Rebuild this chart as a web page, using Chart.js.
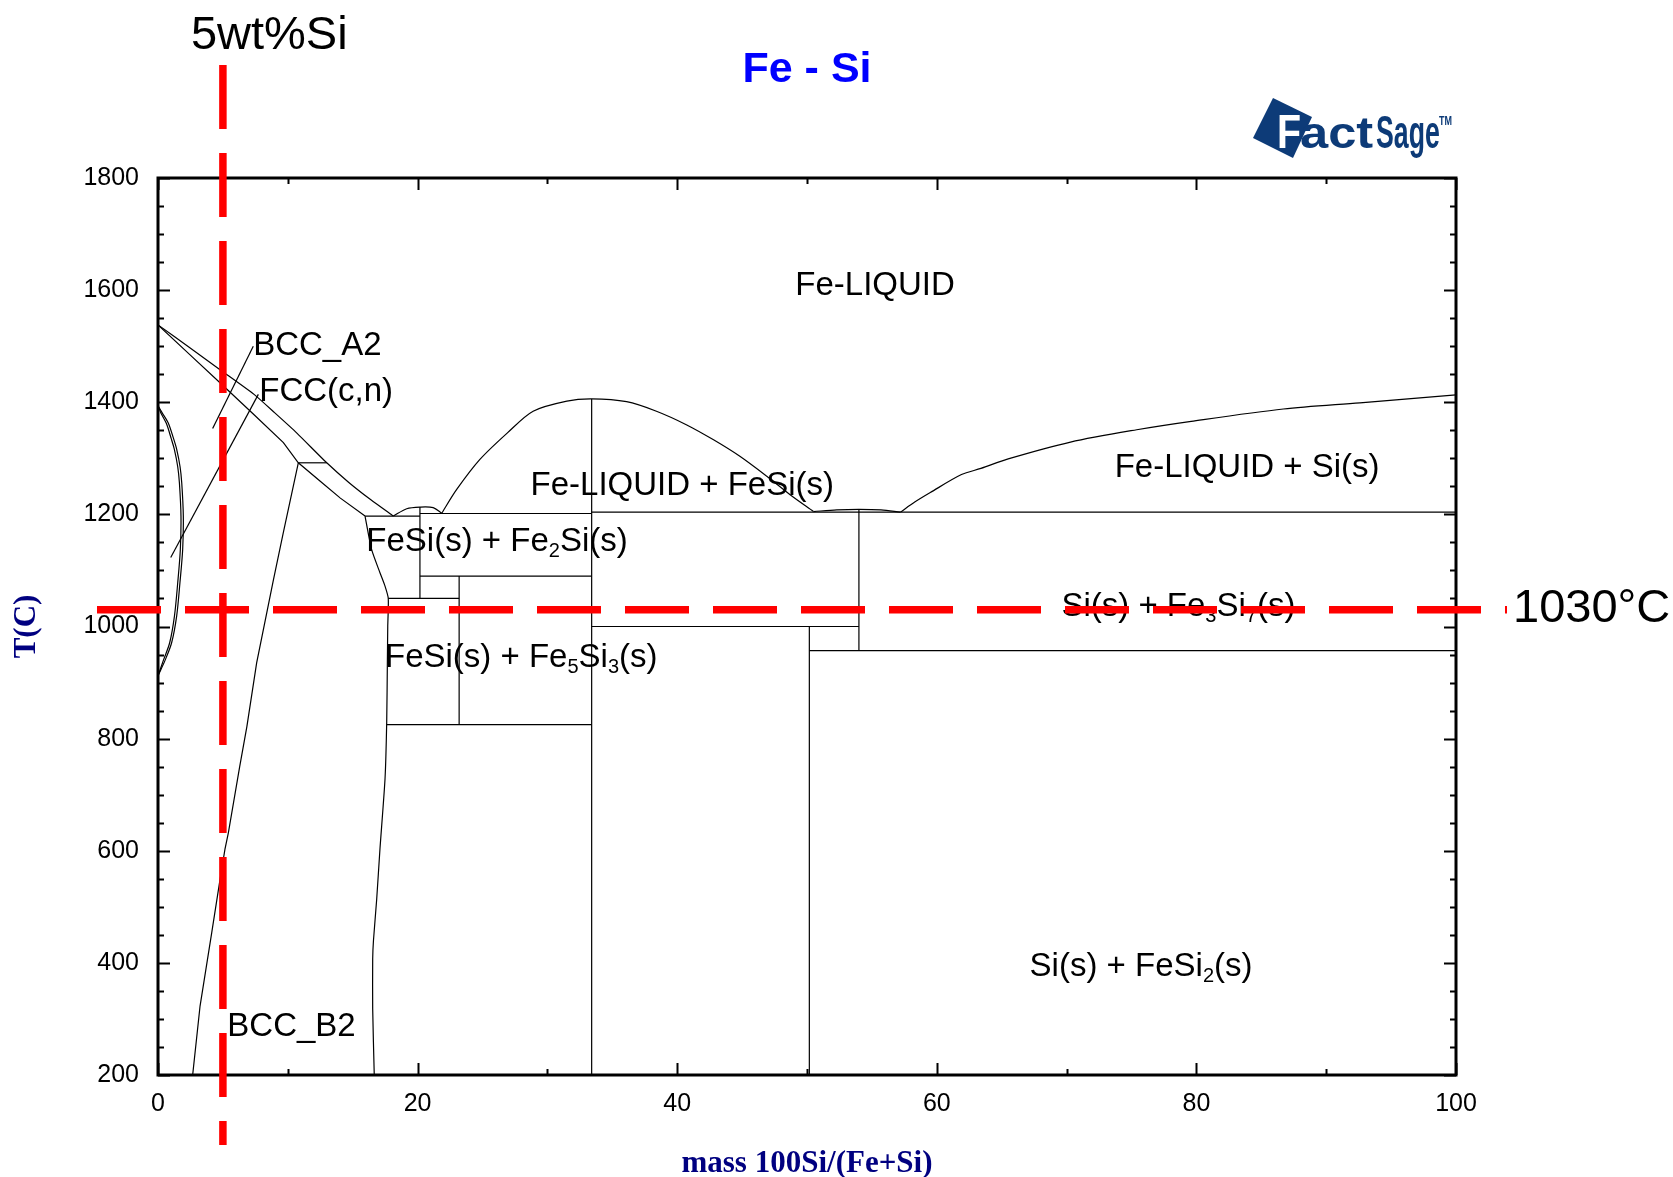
<!DOCTYPE html>
<html>
<head>
<meta charset="utf-8">
<title>Fe - Si</title>
<script src="https://cdn.jsdelivr.net/npm/chart.js@4.4.1/dist/chart.umd.min.js"></script>
<style>
  html, body { margin: 0; padding: 0; background: #ffffff; }
  #wrap { width: 1673px; height: 1177px; position: relative; }
  canvas { display: block; }
</style>
</head>
<body>
<div id="wrap"><canvas id="chart" width="1673" height="1177"></canvas></div>
<script>
// ---- Fe–Si phase boundaries, each point is [mass% Si, T in °C] ----
const liquidusFe      = [[0,1538],[2.4,1498],[4.78,1458],[7.4,1414],[9.0,1381],[10.7,1345],[13.0,1292],[14.7,1257],[16.4,1226],[18.13,1197]];
const solidusBcc      = [[0,1538],[2.45,1485],[4.9,1432],[7.3,1380],[9.66,1328],[10.81,1292],[12.5,1259],[14.05,1229],[15.95,1197]];
const bccTie1292      = [[10.81,1292],[13.0,1292]];
const gammaLoopOuter  = [[0,1394],[0.3,1382],[0.79,1363],[1.2,1335],[1.44,1316],[1.7,1285],[1.83,1256],[1.95,1197],[1.9,1137],[1.69,1078],[1.44,1019],[1.05,971],[0.55,940],[0,912]];
const gammaLoopInner  = [[0,1394],[0.22,1381],[0.65,1362],[1.02,1335],[1.26,1316],[1.52,1285],[1.65,1256],[1.77,1197],[1.72,1137],[1.52,1078],[1.27,1019],[0.9,971],[0.42,940],[0,912]];
const bccA2B2         = [[10.81,1292],[9.65,1167],[8.9,1084],[7.6,935],[6.85,822],[6.3,751],[5.42,632],[5.16,603],[4.78,549],[4.14,454],[3.24,323],[2.67,200]];
const bccA2Leader     = [[4.21,1353],[7.34,1500]];
const fccLeader       = [[0.98,1123],[7.73,1414]];
const b2FeSiBoundary  = [[15.95,1197],[16.46,1137],[17.1,1096],[17.49,1072],[17.74,1050],[17.7,1000],[17.67,935],[17.62,829],[17.49,728],[17.1,603],[16.85,514],[16.6,440],[16.54,407],[16.54,318],[16.66,200]];
const eutecticFe2Si   = [[15.95,1197],[20.18,1197]];
const fe2SiDome       = [[18.13,1197],[19.16,1210],[20.18,1213],[21.2,1212],[21.86,1202]];
const fe2SiLine       = [[20.18,1213],[20.18,1050]];
const fe2SiTop        = [[20.18,1201.6],[33.41,1201.6]];
const fe2SiEutectoid  = [[20.18,1090],[33.41,1090]];
const fe5Si3Line      = [[23.2,1090],[23.2,825]];
const tie1050         = [[17.74,1050],[23.2,1050]];
const tie825          = [[17.62,825],[33.41,825]];
const feSiLiquidus    = [[21.86,1202],[23.0,1244],[24.8,1298],[26.9,1345],[28.9,1384],[31.5,1402],[33.41,1406],[36.1,1401],[38.4,1384],[40.7,1360],[42.8,1333],[44.8,1304],[46.9,1268],[48.7,1235],[50.5,1205]];
const feSiLine        = [[33.41,1406],[33.41,200]];
const eutecticSi      = [[33.41,1204],[100,1204]];
const tie1000         = [[33.41,1000],[54.0,1000]];
const feSi2Line       = [[50.18,1000],[50.18,200]];
const tie957          = [[50.18,957],[100,957]];
const fe3Si7Line      = [[54.0,1209],[54.0,957]];
const fe3Si7Dome      = [[50.5,1205],[52.3,1208],[54.0,1209],[55.7,1208],[57.2,1204]];
const siLiquidus      = [[57.2,1204],[58.3,1222],[59.5,1239],[61.9,1271],[63.4,1282],[65.5,1299],[70.3,1329],[75.4,1351],[79.6,1366],[86.7,1388],[92.6,1399],[100,1413]];

// ---- reference markers ----
const markerSi   = 5;      // wt% Si
const markerTemp = 1030;   // °C

// ---- axis ranges and ticks ----
const xRange = [0, 100];
const yRange = [200, 1800];
const xMajorStep = 20, xMinorStep = 10;
const yMajorStep = 200, yMinorStep = 50;

// ---- region label texts (parts flagged 1 are subscripts) ----
const labelTexts = {
  liquid:     [['Fe-LIQUID']],
  bccA2:      [['BCC_A2']],
  fcc:        [['FCC(c,n)']],
  liqFeSi:    [['Fe-LIQUID + FeSi(s)']],
  feSiFe2Si:  [['FeSi(s) + Fe'],['2',1],['Si(s)']],
  feSiFe5Si3: [['FeSi(s) + Fe'],['5',1],['Si'],['3',1],['(s)']],
  liqSi:      [['Fe-LIQUID + Si(s)']],
  siFe3Si7:   [['Si(s) + Fe'],['3',1],['Si'],['7',1],['(s)']],
  siFeSi2:    [['Si(s) + FeSi'],['2',1],['(s)']],
  bccB2:      [['BCC_B2']]
};
// anchor (left edge, vertical centre of capitals) in data units
const labelAnchors = {
  liquid: [49.1, 1612], bccA2: [7.33, 1506], fcc: [7.8, 1423],
  liqFeSi: [28.7, 1256], feSiFe2Si: [16.05, 1156], feSiFe5Si3: [17.49, 950],
  liqSi: [73.7, 1288], siFe3Si7: [69.6, 1041], siFeSi2: [67.15, 398], bccB2: [5.34, 291]
};

const SANS = '"Liberation Sans", Arial, Helvetica, sans-serif';
const SERIF = '"Liberation Serif", "Times New Roman", serif';

const curves = [
  [liquidusFe, 0.2], [solidusBcc, 0], [bccTie1292, 0],
  [gammaLoopOuter, 0.3], [gammaLoopInner, 0.3], [bccA2B2, 0],
  [bccA2Leader, 0], [fccLeader, 0], [b2FeSiBoundary, 0.2],
  [eutecticFe2Si, 0], [fe2SiDome, 0.3], [fe2SiLine, 0], [fe2SiTop, 0],
  [fe2SiEutectoid, 0], [fe5Si3Line, 0], [tie1050, 0], [tie825, 0],
  [feSiLiquidus, 0.3], [feSiLine, 0], [eutecticSi, 0], [tie1000, 0],
  [feSi2Line, 0], [tie957, 0], [fe3Si7Line, 0], [fe3Si7Dome, 0.3], [siLiquidus, 0.3]
];

const datasets = curves.map(([pts, tension]) => ({
  data: pts.map(([x, y]) => ({ x, y })),
  showLine: true,
  pointRadius: 0,
  pointHoverRadius: 0,
  borderColor: '#000000',
  borderWidth: 1.2,
  tension,
  fill: false
}));

function drawRich(ctx, parts, x, baseline, size) {
  let cx = x;
  for (const [t, sub] of parts) {
    const fs = sub ? Math.round(size * 0.6) : size;
    ctx.font = `${fs}px ${SANS}`;
    ctx.fillText(t, cx, sub ? baseline + 6 : baseline);
    cx += ctx.measureText(t).width;
  }
}

function drawLogo(ctx) {
  const blue = '#0d3b78';
  ctx.save();
  ctx.fillStyle = blue;
  ctx.beginPath();
  ctx.moveTo(1273, 98); ctx.lineTo(1312, 117); ctx.lineTo(1293, 158); ctx.lineTo(1253, 138);
  ctx.closePath();
  ctx.fill();
  ctx.textBaseline = 'alphabetic';
  ctx.textAlign = 'left';
  // "F" in white over the tile
  ctx.save();
  ctx.translate(1277, 148); ctx.scale(0.82, 1);
  ctx.font = `bold 48px ${SANS}`;
  ctx.fillStyle = '#ffffff';
  ctx.fillText('F', 0, 0);
  ctx.restore();
  // "act"
  ctx.save();
  ctx.translate(1300, 148); ctx.scale(1.15, 1);
  ctx.font = `bold 44px ${SANS}`;
  ctx.fillStyle = blue;
  ctx.fillText('act', 0, 0);
  ctx.restore();
  // "Sage"
  ctx.save();
  ctx.translate(1376, 148); ctx.scale(0.58, 1);
  ctx.font = `bold 46px ${SANS}`;
  ctx.fillStyle = blue;
  ctx.fillText('Sage', 0, 0);
  ctx.restore();
  // trademark
  ctx.save();
  ctx.translate(1439, 125); ctx.scale(0.75, 1);
  ctx.font = `bold 12px ${SANS}`;
  ctx.fillStyle = blue;
  ctx.fillText('TM', 0, 0);
  ctx.restore();
  ctx.restore();
}

const decorations = {
  id: 'decorations',
  afterDraw(chart) {
    const { ctx, chartArea: a, scales: { x, y } } = chart;
    ctx.save();

    // plot frame
    ctx.strokeStyle = '#000000';
    ctx.lineWidth = 3;
    ctx.strokeRect(a.left, a.top, a.right - a.left, a.bottom - a.top);

    // inward tick marks on all four sides
    ctx.lineWidth = 2;
    ctx.beginPath();
    for (let v = xRange[0]; v <= xRange[1]; v += xMinorStep) {
      const px = Math.round(x.getPixelForValue(v)) + 0.5;
      const len = v % xMajorStep === 0 ? 12 : 6;
      ctx.moveTo(px, a.bottom); ctx.lineTo(px, a.bottom - len);
      ctx.moveTo(px, a.top); ctx.lineTo(px, a.top + len);
    }
    for (let v = yRange[0]; v <= yRange[1]; v += yMinorStep) {
      const py = Math.round(y.getPixelForValue(v)) + 0.5;
      const len = v % yMajorStep === 0 ? 12 : 6;
      ctx.moveTo(a.left, py); ctx.lineTo(a.left + len, py);
      ctx.moveTo(a.right, py); ctx.lineTo(a.right - len, py);
    }
    ctx.stroke();

    // region labels
    ctx.fillStyle = '#000000';
    ctx.textAlign = 'left';
    ctx.textBaseline = 'alphabetic';
    for (const key of Object.keys(labelTexts)) {
      const [wx, wy] = labelAnchors[key];
      drawRich(ctx, labelTexts[key], x.getPixelForValue(wx), y.getPixelForValue(wy) + 12, 33);
    }

    // title
    ctx.font = `bold 43px ${SANS}`;
    ctx.fillStyle = '#0000ff';
    ctx.textAlign = 'center';
    ctx.fillText('Fe - Si', (a.left + a.right) / 2, 82);

    // axis titles
    ctx.font = `bold 31px ${SERIF}`;
    ctx.fillStyle = '#000080';
    ctx.fillText('mass 100Si/(Fe+Si)', (a.left + a.right) / 2, 1172);
    ctx.save();
    ctx.translate(35, (a.top + a.bottom) / 2);
    ctx.rotate(-Math.PI / 2);
    ctx.fillText('T(C)', 0, 0);
    ctx.restore();

    drawLogo(ctx);

    // marker lines
    const mx = x.getPixelForValue(markerSi);
    const my = y.getPixelForValue(markerTemp);
    ctx.strokeStyle = '#ff0000';
    ctx.setLineDash([64, 24]);
    ctx.lineCap = 'butt';
    ctx.lineWidth = 7.5;
    ctx.beginPath(); ctx.moveTo(mx, 65); ctx.lineTo(mx, 1145); ctx.stroke();
    ctx.beginPath(); ctx.moveTo(97, my); ctx.lineTo(1507, my); ctx.stroke();
    ctx.setLineDash([]);

    ctx.fillStyle = '#000000';
    ctx.textAlign = 'left';
    ctx.font = `47px ${SANS}`;
    ctx.fillText(markerSi + 'wt%Si', mx - 32, 49);
    ctx.fillText(markerTemp + '°C', 1513, my + 12);

    ctx.restore();
  }
};

new Chart(document.getElementById('chart'), {
  type: 'scatter',
  data: { datasets },
  options: {
    responsive: false,
    animation: false,
    devicePixelRatio: 1,
    events: [],
    layout: { padding: { top: 178, right: 217, bottom: 0, left: 0 } },
    plugins: { legend: { display: false }, tooltip: { enabled: false }, title: { display: false } },
    scales: {
      x: {
        type: 'linear', min: xRange[0], max: xRange[1],
        grid: { display: false, drawTicks: false },
        border: { display: false },
        ticks: { stepSize: xMajorStep, color: '#000000', padding: 14, maxRotation: 0,
                 font: { family: SANS, size: 25 }, callback: v => String(v) },
        afterFit(s) { s.height = 102; }
      },
      y: {
        type: 'linear', min: yRange[0], max: yRange[1],
        grid: { display: false, drawTicks: false },
        border: { display: false },
        ticks: { stepSize: yMajorStep, color: '#000000', padding: 19,
                 font: { family: SANS, size: 25 }, callback: v => String(v) },
        afterFit(s) { s.width = 158; }
      }
    }
  },
  plugins: [decorations]
});
</script>
</body>
</html>
